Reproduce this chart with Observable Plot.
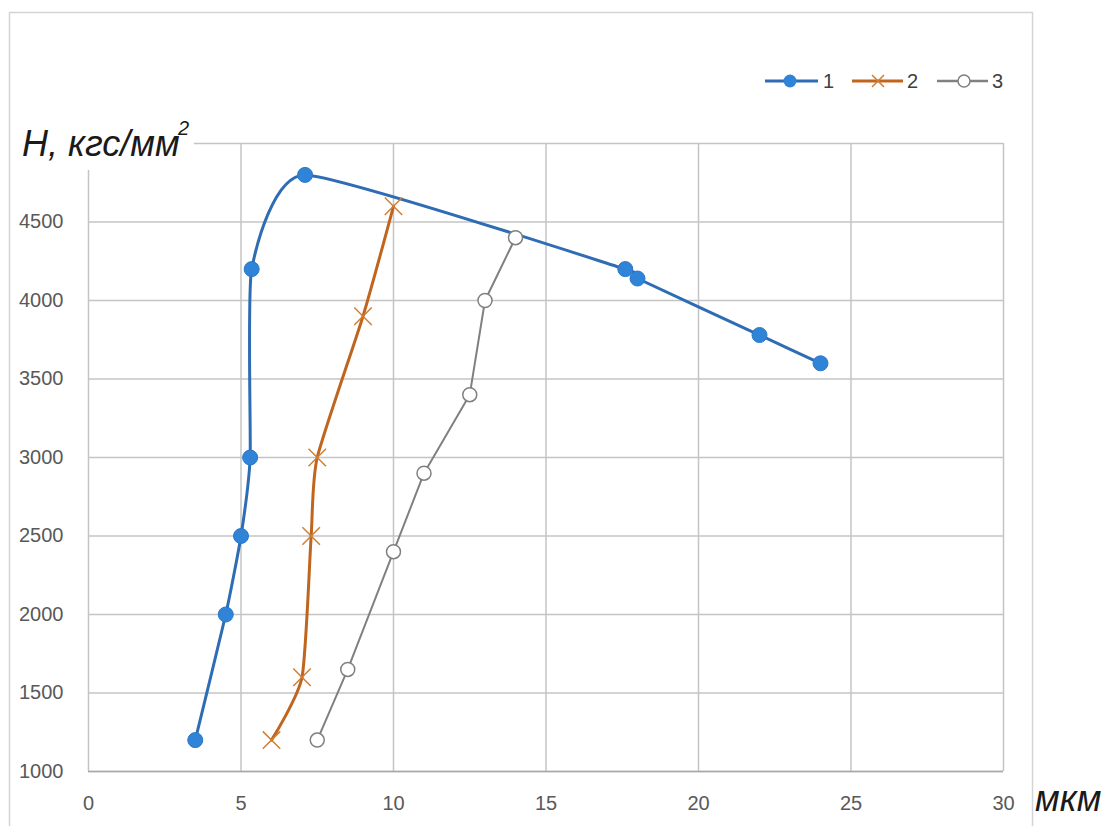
<!DOCTYPE html>
<html>
<head>
<meta charset="utf-8">
<script src="https://cdn.jsdelivr.net/npm/d3@7"></script>
<script src="https://cdn.jsdelivr.net/npm/@observablehq/plot@0.6"></script>
<style>
  html, body { margin: 0; padding: 0; background: #fff; }
  #chart { position: relative; width: 1104px; height: 826px; }
</style>
</head>
<body>
<div id="chart"></div>
<script>
// ---- data ----
const xTicks = [0, 5, 10, 15, 20, 25, 30];
const yTicks = [1000, 1500, 2000, 2500, 3000, 3500, 4000, 4500];
const yGrid = [1000, 1500, 2000, 2500, 3000, 3500, 4000, 4500, 5000];

const s1x = [3.5, 4.5, 5.0, 5.3, 5.35, 7.1, 17.6, 18.0, 22.0, 24.0];
const s1y = [1200, 2000, 2500, 3000, 4200, 4800, 4200, 4140, 3780, 3600];

const s2x = [6.0, 7.0, 7.3, 7.5, 9.0, 10.0];
const s2y = [1200, 1600, 2500, 3000, 3900, 4600];

const s3x = [7.5, 8.5, 10.0, 11.0, 12.5, 13.0, 14.0];
const s3y = [1200, 1650, 2400, 2900, 3400, 4000, 4400];

const seriesNames = ["1", "2", "3"];
const yTitle = "H, кгс/мм";
const yTitleSup = "2";
const xTitle = "мкм";

const zip = (xs, ys) => xs.map((x, i) => ({x, y: ys[i]}));
const d1 = zip(s1x, s1y), d2 = zip(s2x, s2y), d3s = zip(s3x, s3y);

const blueLine = "#2E6DB4", blueDot = "#2F84D8";
const orange = "#C0651E", orangeMark = "#CF7F35";
const gray = "#808080";
const FONT = "'Liberation Sans', Arial, sans-serif";

const svg = Plot.plot({
  width: 1104,
  height: 826,
  marginLeft: 88,
  marginRight: 101,
  marginTop: 143,
  marginBottom: 55,
  x: {domain: [0, 30]},
  y: {domain: [1000, 5000]},
  style: {fontFamily: FONT, fontSize: "20px", color: "#595959", background: "transparent"},
  marks: [
    Plot.ruleY(yGrid, {stroke: "#c4c4c4", strokeWidth: 1.5}),
    Plot.ruleX(xTicks, {stroke: "#c4c4c4", strokeWidth: 1.5}),
    Plot.ruleY([1000], {stroke: "#a8a8a8", strokeWidth: 1.5}),
    Plot.axisY(yTicks, {tickSize: 0, tickPadding: 25, label: null, tickFormat: "d", fontSize: 20}),
    Plot.axisX(xTicks, {tickSize: 0, tickPadding: 24, label: null, tickFormat: "d", fontSize: 20}),
    Plot.line(d3s, {x: "x", y: "y", stroke: gray, strokeWidth: 2}),
    Plot.line(d2, {x: "x", y: "y", curve: "cardinal", tension: 0.4, stroke: orange, strokeWidth: 3}),
    Plot.line(d1, {x: "x", y: "y", curve: "cardinal", tension: 0.5, stroke: blueLine, strokeWidth: 3}),
    Plot.dot(d3s, {x: "x", y: "y", r: 7, fill: "white", stroke: gray, strokeWidth: 1.5}),
    Plot.dot(d2, {x: "x", y: "y", symbol: "times", r: 8, stroke: orangeMark, strokeWidth: 1.5}),
    Plot.dot(d1, {x: "x", y: "y", r: 7.5, fill: blueDot, stroke: "#2A77C8", strokeWidth: 1})
  ]
});

const root = d3.select(svg);
// chart border
root.insert("rect", ":first-child")
  .attr("x", 9.5).attr("y", 12.5).attr("width", 1023).attr("height", 830)
  .attr("fill", "white").attr("stroke", "#d4d4d4").attr("stroke-width", 1.5);

// title block (masks top of grid)
root.append("rect").attr("x", 20).attr("y", 110).attr("width", 174).attr("height", 60).attr("fill", "white");
root.append("text")
  .attr("x", 22).attr("y", 156).attr("text-anchor", "start")
  .attr("font-family", FONT)
  .attr("font-style", "italic").attr("font-size", 36).attr("fill", "#1a1a1a")
  .text(yTitle);
root.append("text")
  .attr("x", 178).attr("y", 135).attr("text-anchor", "start")
  .attr("font-family", FONT)
  .attr("font-style", "italic").attr("font-size", 20).attr("fill", "#1a1a1a")
  .text(yTitleSup);

// x title
root.append("text")
  .attr("x", 1035).attr("y", 811).attr("text-anchor", "start")
  .attr("font-family", FONT)
  .attr("font-style", "italic").attr("font-size", 36).attr("fill", "#1a1a1a")
  .text(xTitle);

// legend
const leg = [
  {x0: 765, x1: 818, mx: 790, lx: 823, color: blueLine, kind: "dot"},
  {x0: 852, x1: 903, mx: 878, lx: 907, color: orange, kind: "times"},
  {x0: 937, x1: 988, mx: 964, lx: 992, color: gray, kind: "open"}
];
const ly = 81;
leg.forEach((L, i) => {
  const g = root.append("g");
  g.append("line").attr("x1", L.x0).attr("x2", L.x1).attr("y1", ly).attr("y2", ly)
    .attr("stroke", L.color).attr("stroke-width", L.kind === "open" ? 2.5 : 3);
  if (L.kind === "dot") {
    g.append("circle").attr("cx", L.mx).attr("cy", ly).attr("r", 6.5).attr("fill", blueDot);
  } else if (L.kind === "times") {
    const s = 6;
    g.append("path").attr("d", `M${L.mx - s},${ly - s}L${L.mx + s},${ly + s}M${L.mx - s},${ly + s}L${L.mx + s},${ly - s}`)
      .attr("stroke", orangeMark).attr("stroke-width", 1.5);
  } else {
    g.append("circle").attr("cx", L.mx).attr("cy", ly).attr("r", 6).attr("fill", "white")
      .attr("stroke", gray).attr("stroke-width", 1.5);
  }
  g.append("text").attr("x", L.lx).attr("y", ly + 7).attr("text-anchor", "start")
    .attr("font-family", FONT).attr("font-size", 20).attr("fill", "#404040")
    .text(seriesNames[i]);
});

document.getElementById("chart").appendChild(svg);
</script>
</body>
</html>
